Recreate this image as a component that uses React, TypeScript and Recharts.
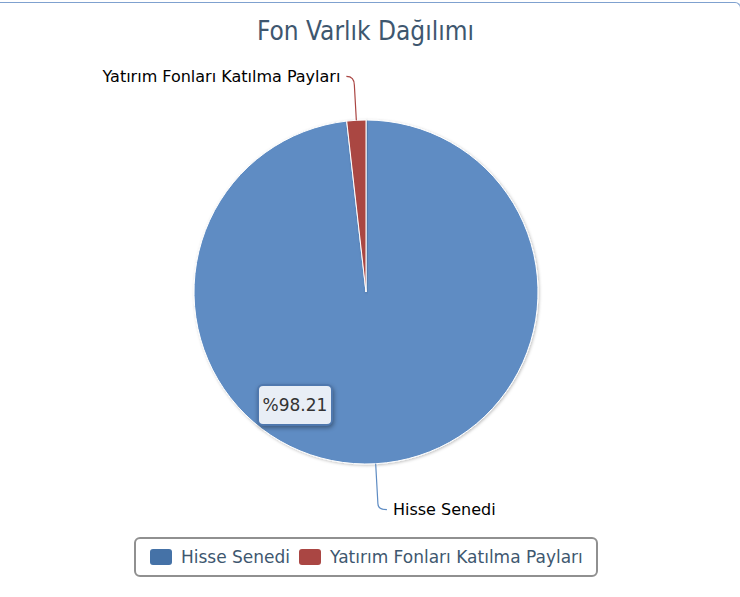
import { PieChart, Pie, Cell, Legend, Tooltip } from 'recharts';

const categories = ['Hisse Senedi', 'Yatırım Fonları Katılma Payları'];
const shares = [98.21, 1.79];
const colors = ['#5E8CC3', '#AA4643'];
const legendColors = ['#4572A7', '#AA4643'];

const data = categories.map((name, i) => ({ name, value: shares[i] }));

const RADIAN = Math.PI / 180;

const renderLabel = (props: any) => {
  const { cx, cy, midAngle, outerRadius, index, name } = props;
  const cos = Math.cos(-midAngle * RADIAN);
  const sin = Math.sin(-midAngle * RADIAN);
  const x0 = cx + outerRadius * cos;
  const y0 = cy + outerRadius * sin;
  const top = sin < 0;
  const reach = outerRadius + (top ? 35 : 40);
  const x1 = cx + reach * cos;
  const y1 = cy + reach * sin;
  const left = top;
  const x2 = x1 + (left ? -8 : 9);
  const y2 = y1 + (top ? -9 : 6);
  return (
    <g>
      <path
        d={`M${x0},${y0} L${x1},${y1} Q${x1},${y2} ${x2},${y2}`}
        stroke={colors[index]}
        strokeWidth={1.2}
        fill="none"
      />
      <text
        x={x2 + (left ? -6 : 6)}
        y={y2}
        textAnchor={left ? 'end' : 'start'}
        dominantBaseline="central"
        fontFamily="DejaVu Sans"
        fontSize={16}
        fill="#000"
      >
        {name}
      </text>
    </g>
  );
};

const renderLegend = (props: any) => {
  const { payload } = props;
  return (
    <div
      style={{
        display: 'flex',
        alignItems: 'center',
        boxSizing: 'border-box',
        height: 40,
        paddingLeft: 14,
        border: '2px solid #909090',
        borderRadius: 6,
        fontFamily: 'DejaVu Sans',
        fontSize: 17,
        color: '#3E576F',
      }}
    >
      {payload.map((entry: any, i: number) => (
        <div key={entry.value} style={{ display: 'flex', alignItems: 'center', marginRight: 9 }}>
          <span
            style={{
              display: 'inline-block',
              width: 22,
              height: 16,
              borderRadius: 3,
              background: legendColors[i],
              marginRight: 9,
            }}
          />
          <span>{entry.value}</span>
        </div>
      ))}
    </div>
  );
};

const renderTooltip = (props: any) => {
  const { payload } = props;
  if (!payload || !payload.length) return null;
  return (
    <div
      style={{
        boxSizing: 'border-box',
        width: 76,
        height: 42,
        background: '#E8EEF6',
        border: '2px solid #4F78AE',
        borderRadius: 6,
        boxShadow: '1px 2px 4px rgba(0,0,0,0.35)',
        fontFamily: 'DejaVu Sans',
        fontSize: 17,
        color: '#333',
        display: 'flex',
        alignItems: 'center',
        justifyContent: 'center',
      }}
    >
      %{payload[0].value}
    </div>
  );
};

const App = () => {
  return (
    <div style={{ position: 'fixed', left: 0, top: 0, width: 740, height: 597, background: '#fff', overflow: 'hidden' }}>
      <div
        style={{
          position: 'absolute',
          left: 0,
          top: 16,
          width: 731,
          textAlign: 'center',
          fontFamily: 'DejaVu Sans Condensed',
          fontSize: 26,
          color: '#3E576F',
        }}
      >
        Fon Varlık Dağılımı
      </div>
      <PieChart
        width={740}
        height={597}
        margin={{ top: 0, right: 0, bottom: 0, left: 0 }}
        style={{ position: 'absolute', left: 0, top: 0 }}
      >
        <defs>
          <filter id="pieShadow" x="-10%" y="-10%" width="120%" height="120%">
            <feDropShadow dx="1" dy="1" stdDeviation="1.5" floodColor="#000" floodOpacity="0.25" />
          </filter>
        </defs>
        <Pie
          data={data}
          dataKey="value"
          nameKey="name"
          cx={366}
          cy={292}
          outerRadius={172}
          startAngle={90}
          endAngle={-270}
          stroke="#fff"
          strokeWidth={1}
          label={renderLabel}
          labelLine={false}
          isAnimationActive={false}
        >
          {data.map((d, i) => (
            <Cell key={d.name} fill={colors[i]} filter="url(#pieShadow)" />
          ))}
        </Pie>
        <Tooltip
          content={renderTooltip}
          defaultIndex={0}
          active
          position={{ x: 257, y: 384 }}
          isAnimationActive={false}
          allowEscapeViewBox={{ x: true, y: true }}
          wrapperStyle={{ outline: 'none' }}
        />
        <Legend
          content={renderLegend}
          wrapperStyle={{ position: 'absolute', left: 134, top: 537, width: 464, height: 40 }}
        />
      </PieChart>
      <div
        style={{
          position: 'absolute',
          zIndex: 10,
          left: -4,
          top: 2,
          width: 745,
          height: 640,
          borderTop: '1px solid #7FA1CF',
          borderRight: '1px solid #7FA1CF',
          borderTopRightRadius: 6,
          boxSizing: 'border-box',
          pointerEvents: 'none',
        }}
      />
    </div>
  );
};

export default App;
